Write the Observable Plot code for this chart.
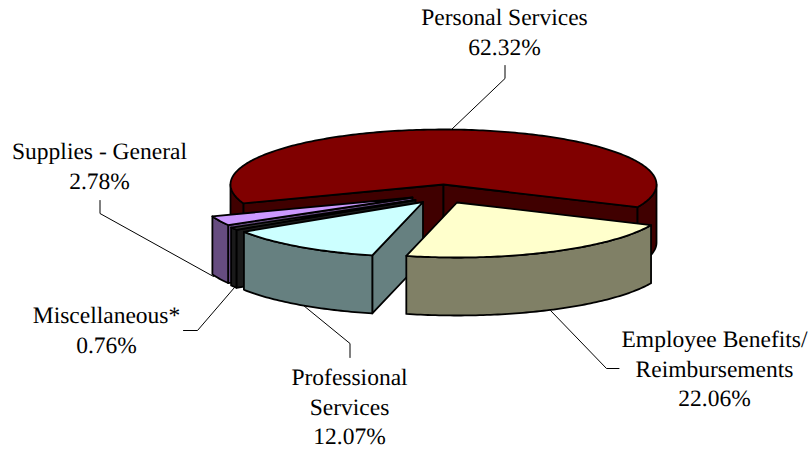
<!DOCTYPE html>
<html>
<head>
<meta charset="utf-8">
<script src="https://cdn.jsdelivr.net/npm/d3@7"></script>
<script src="https://cdn.jsdelivr.net/npm/@observablehq/plot@0.6"></script>
<style>html,body{margin:0;padding:0;background:#fff}svg{display:block}text{text-rendering:geometricPrecision}</style>
</head>
<body>
<div id="chart"></div>
<script>
// Data
const categories = ["Personal Services", "Employee Benefits/\nReimbursements", "Professional\nServices", "Miscellaneous*", "Supplies - General"];
const shares = [62.32, 22.06, 12.07, 0.76, 2.78];

// Styles
const topColors = ["#800000", "#ffffcc", "#ccffff", "#333333", "#cc99ff"];
const sideColors = ["#400000", "#808066", "#668080", "#1a1a1a", "#664c80"];
const innerColors = ["#400000", "#808066", "#668080", "#1a1a1a", "#664c80"];
const paintOrder = [0, 4, 3, 2, 1];

// Layout (3D pie projection)
const center = [443, 184], rx = 213, ry = 55, depth = 58, startAngle = 250;
const explode = [[0, 0], [13.5, 18], [-20.5, 17.5], [-28, 15.5], [-31, 13]];
const fontSize = 23.5, lineGap = 29.3;
const labelAnchors = [[504, 25], [714, 347], [349, 385], [106, 323], [99, 159]];
const leaders = [
  [[504.5, 65], [504.5, 78], [451, 129]],
  [[618.5, 368], [606, 368], [550, 310]],
  [[349.5, 357], [349.5, 343], [303, 305]],
  [[183, 330], [197, 330], [234, 287]],
  [[99.5, 200], [99.5, 213], [213, 276]]
];

const rad = Math.PI / 180;
function rim(i, t, dz = 0) {
  return {x: center[0] + explode[i][0] + rx * Math.sin(t * rad),
          y: center[1] + explode[i][1] - ry * Math.cos(t * rad) + dz};
}
function apex(i, dz = 0) {
  return {x: center[0] + explode[i][0], y: center[1] + explode[i][1] + dz};
}
function arc(i, a, b, dz = 0) {
  const pts = [], n = Math.max(2, Math.ceil(Math.abs(b - a)));
  for (let k = 0; k <= n; ++k) pts.push(rim(i, a + (b - a) * k / n, dz));
  return pts;
}
const close = pts => [...pts, pts[0]];
const polygon = (pts, fill) => Plot.line(close(pts), {x: "x", y: "y", fill, stroke: "#000", strokeWidth: 1.8, strokeLinejoin: "round"});

let cum = startAngle;
const spans = shares.map(s => { const a = cum; cum += s * 3.6; return [a, cum]; });

const sliceMarks = [];
for (const i of paintOrder) {
  const [a, b] = spans[i];
  if (Math.sin(a * rad) < 0) sliceMarks.push(polygon([apex(i), rim(i, a), rim(i, a, depth), apex(i, depth)], innerColors[i]));
  if (Math.sin(b * rad) > 0) sliceMarks.push(polygon([apex(i), rim(i, b), rim(i, b, depth), apex(i, depth)], innerColors[i]));
  for (const base of [0, 360]) {
    const lo = Math.max(a, base + 90), hi = Math.min(b, base + 270);
    if (lo < hi) sliceMarks.push(polygon([...arc(i, lo, hi), ...arc(i, hi, lo, depth)], sideColors[i]));
  }
  sliceMarks.push(polygon([apex(i), ...arc(i, a, b)], topColors[i]));
}

const leaderRows = leaders.flatMap((pts, i) => pts.map(([x, y]) => ({x, y, i})));
const labels = categories.map((c, i) => ({
  text: `${c}\n${shares[i].toFixed(2)}%`, x: labelAnchors[i][0], y: labelAnchors[i][1]
}));

const chart = Plot.plot({
  width: 809, height: 449, margin: 0,
  x: {domain: [0, 809], range: [0, 809], axis: null},
  y: {domain: [0, 449], range: [0, 449], axis: null},
  style: {background: "#fff"},
  marks: [
    ...sliceMarks,
    Plot.line(leaderRows, {x: "x", y: "y", z: "i", stroke: "#000", strokeWidth: 1}),
    Plot.text(labels, {x: "x", y: "y", text: "text", textAnchor: "middle", lineAnchor: "top",
      dy: -0.71 * lineGap, lineHeight: lineGap / fontSize, fontSize, fontFamily: "Liberation Serif", fill: "#000"})
  ]
});
document.getElementById("chart").append(chart);
</script>
</body>
</html>
